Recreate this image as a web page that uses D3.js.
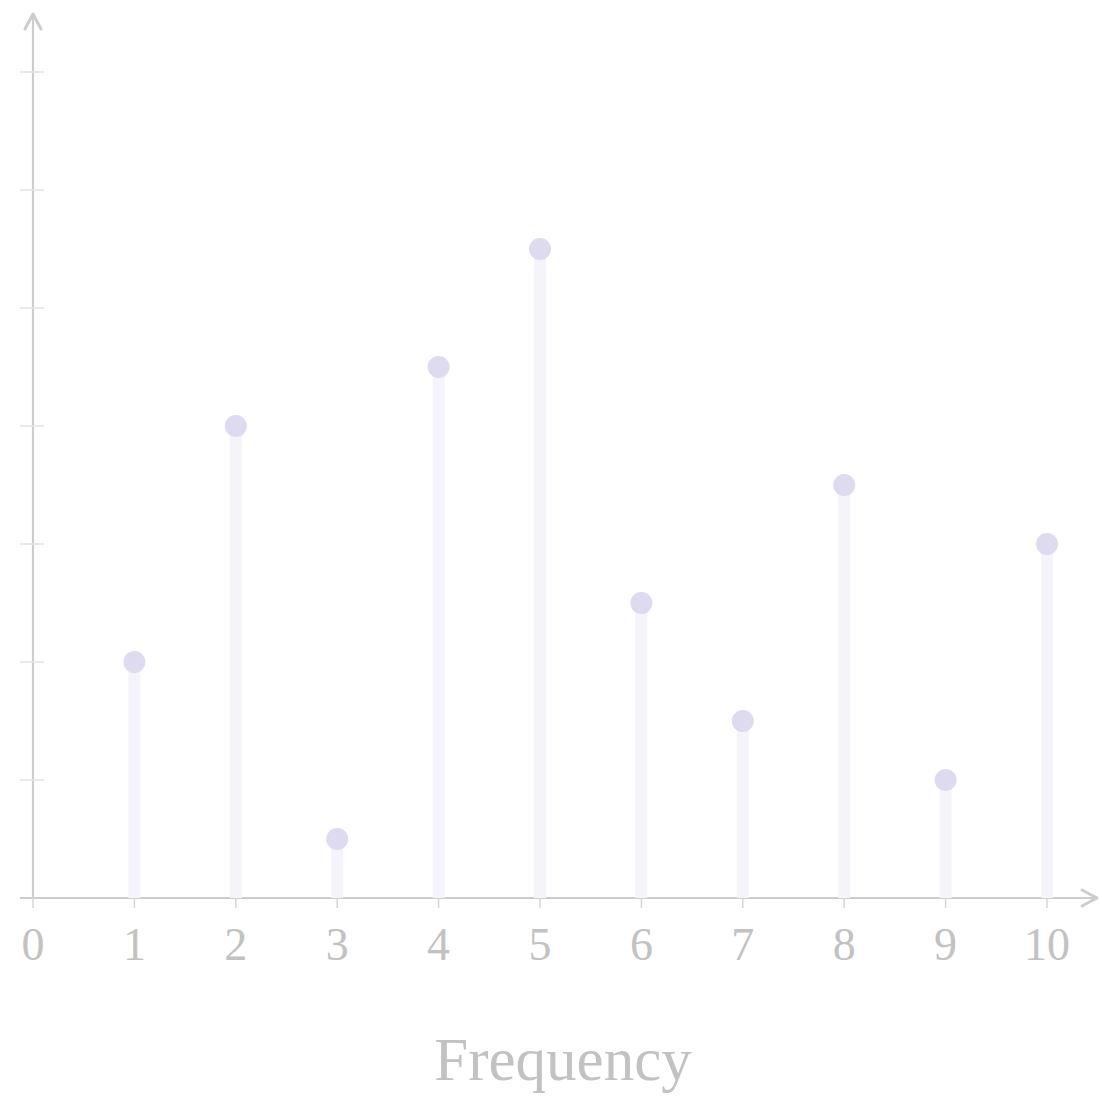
<!DOCTYPE html>
<html><head><meta charset="utf-8">
<script src="https://cdn.jsdelivr.net/npm/d3@7"></script>
<style>body{margin:0;background:#fff}</style>
</head><body>
<svg id="c" width="1102" height="1097"></svg>
<script>
const categories = [1,2,3,4,5,6,7,8,9,10];
const values = [2,4,0.5,4.5,5.5,2.5,1.5,3.5,1,3];
const xTicks = [0,1,2,3,4,5,6,7,8,9,10];
const yTicks = [1,2,3,4,5,6,7];
const xTitle = "Frequency";

const svg = d3.select("#c");
const x = d3.scaleLinear().domain([0,10]).range([33,1047]);
const y = d3.scaleLinear().domain([0,7]).range([898,72]);
const axisCol = "#cdcdcd";

// axes lines
svg.append("line").attr("x1",20).attr("x2",1095).attr("y1",y(0)).attr("y2",y(0))
  .attr("stroke",axisCol).attr("stroke-width",2.2);
svg.append("line").attr("x1",x(0)).attr("x2",x(0)).attr("y1",y(0)).attr("y2",15)
  .attr("stroke",axisCol).attr("stroke-width",2.2);
// arrowheads (open chevrons)
svg.append("path").attr("d",`M${x(0)-8},29 L${x(0)},14 L${x(0)+8},29`)
  .attr("fill","none").attr("stroke",axisCol).attr("stroke-width",3).attr("stroke-linejoin","round").attr("stroke-linecap","round");
svg.append("path").attr("d",`M1082,${y(0)-8} L1097,${y(0)} L1082,${y(0)+8}`)
  .attr("fill","none").attr("stroke",axisCol).attr("stroke-width",3).attr("stroke-linejoin","round").attr("stroke-linecap","round");

// y ticks
svg.selectAll(".yt").data(yTicks).join("line")
  .attr("x1",x(0)-13).attr("x2",x(0)+11).attr("y1",d=>y(d)).attr("y2",d=>y(d))
  .attr("stroke","#e2e2e2").attr("stroke-width",1.5);
// x ticks
svg.selectAll(".xt").data(xTicks).join("line")
  .attr("x1",d=>x(d)).attr("x2",d=>x(d)).attr("y1",y(0)).attr("y2",y(0)+10)
  .attr("stroke","#d6d6d6").attr("stroke-width",1.5);

// stems
svg.selectAll(".stem").data(categories).join("rect")
  .attr("x",(d)=>x(d)-6).attr("width",12)
  .attr("y",(d,i)=>y(values[i])).attr("height",(d,i)=>y(0)-y(values[i]))
  .attr("fill","#f5f4fa");
// dots
svg.selectAll(".dot").data(categories).join("circle")
  .attr("cx",d=>x(d)).attr("cy",(d,i)=>y(values[i])).attr("r",11)
  .attr("fill","#dedaf0");

// x labels
svg.selectAll(".xl").data(xTicks).join("text")
  .attr("x",d=>x(d)).attr("y",960).attr("text-anchor","middle")
  .attr("font-family","'Liberation Serif', serif").attr("font-size",46)
  .attr("fill","#c2c2c2").text(d=>d);

svg.append("text").attr("x",563).attr("y",1080).attr("text-anchor","middle")
  .attr("font-family","'Liberation Serif', serif").attr("font-size",61)
  .attr("fill","#c2c2c2").text(xTitle);
</script>
</body></html>
